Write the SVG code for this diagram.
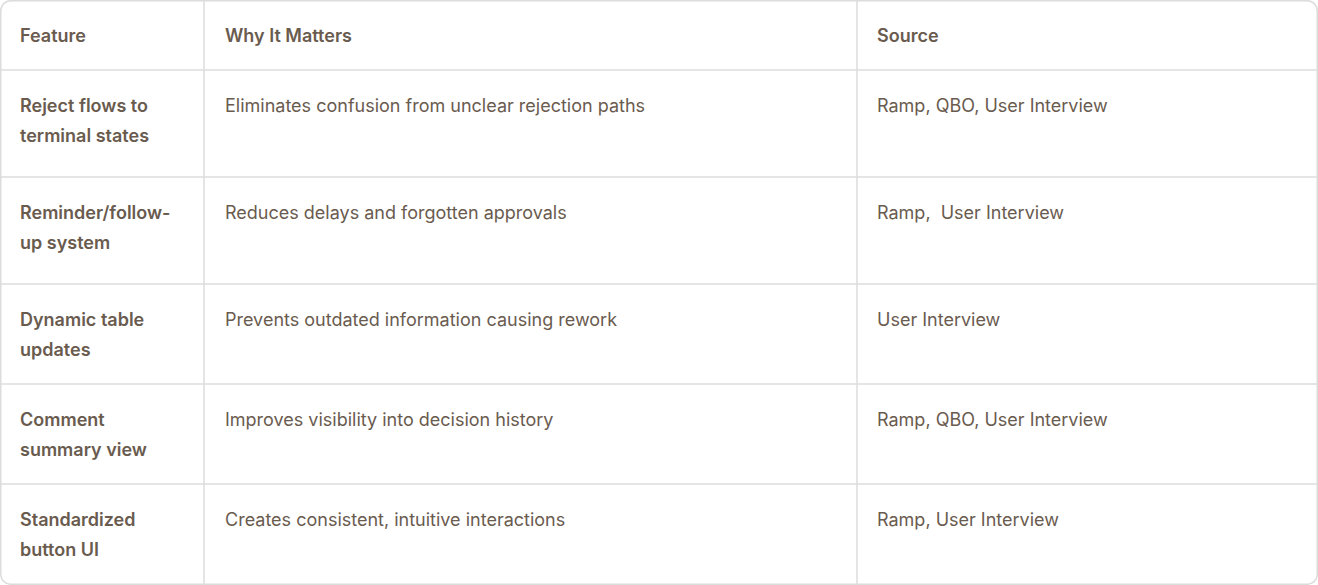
<svg xmlns="http://www.w3.org/2000/svg" width="1318" height="585" viewBox="0 0 1318 585">
<style>
.l{stroke:#dcdcdc;stroke-width:1.5;fill:none}
text{font-family:Inter,"Liberation Sans",sans-serif;font-size:18px;fill:#6a5b4f}
.b{font-weight:600}
</style>
<rect x="0.75" y="0.75" width="1316.5" height="583.5" rx="10" fill="#fff" class="l"/>
<g id="grid">
<line class="l" x1="204" y1="1" x2="204" y2="584"/>
<line class="l" x1="857" y1="1" x2="857" y2="584"/>
<line class="l" x1="1" y1="70" x2="1317" y2="70"/>
<line class="l" x1="1" y1="177" x2="1317" y2="177"/>
<line class="l" x1="1" y1="284" x2="1317" y2="284"/>
<line class="l" x1="1" y1="384" x2="1317" y2="384"/>
<line class="l" x1="1" y1="484" x2="1317" y2="484"/>
</g>
<g id="header" class="b">
<text x="20" y="42" class="b">Feature</text>
<text x="225" y="42" class="b">Why It Matters</text>
<text x="877" y="42" class="b">Source</text>
</g>
<g id="row1">
<text x="20" y="112" class="b">Reject flows to</text>
<text x="20" y="142" class="b">terminal states</text>
<text x="225" y="112">Eliminates confusion from unclear rejection paths</text>
<text x="877" y="112">Ramp, QBO, User Interview</text>
</g>
<g id="row2">
<text x="20" y="219" class="b">Reminder/follow-</text>
<text x="20" y="249" class="b">up system</text>
<text x="225" y="219">Reduces delays and forgotten approvals</text>
<text x="877" y="219" xml:space="preserve">Ramp,  User Interview</text>
</g>
<g id="row3">
<text x="20" y="326" class="b">Dynamic table</text>
<text x="20" y="356" class="b">updates</text>
<text x="225" y="326">Prevents outdated information causing rework</text>
<text x="877" y="326">User Interview</text>
</g>
<g id="row4">
<text x="20" y="426" class="b">Comment</text>
<text x="20" y="456" class="b">summary view</text>
<text x="225" y="426">Improves visibility into decision history</text>
<text x="877" y="426">Ramp, QBO, User Interview</text>
</g>
<g id="row5">
<text x="20" y="526" class="b">Standardized</text>
<text x="20" y="556" class="b">button UI</text>
<text x="225" y="526">Creates consistent, intuitive interactions</text>
<text x="877" y="526">Ramp, User Interview</text>
</g>
</svg>
